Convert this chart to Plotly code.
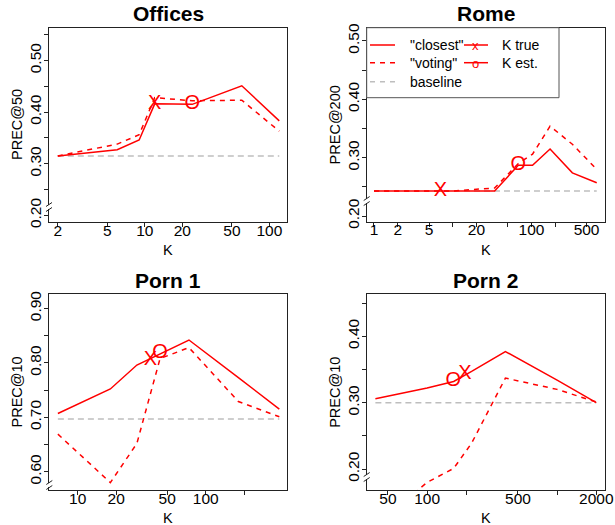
import math
import plotly.graph_objects as go

# ---------------- data ----------------
offices_k = [2, 6, 9, 12, 24, 60, 120]
offices_closest = [0.315, 0.327, 0.346, 0.416, 0.415, 0.451, 0.383]
offices_voting = [0.315, 0.338, 0.356, 0.428, 0.422, 0.423, 0.363]
offices_baseline = 0.315
offices_ktrue = [12, 0.416]
offices_kest = [24, 0.415]

rome_k = [1, 2, 5, 10, 20, 34, 68, 103, 172, 330, 673]
rome_closest = [0.243, 0.243, 0.243, 0.243, 0.243, 0.243, 0.287, 0.287, 0.315, 0.274, 0.257]
rome_voting = [0.243, 0.243, 0.243, 0.243, 0.246, 0.248, 0.290, 0.306, 0.354, 0.323, 0.280]
rome_baseline = 0.243
rome_ktrue = [7, 0.243]
rome_kest = [68, 0.287]

porn1_k = [7, 18, 29, 44, 74, 180, 376]
porn1_closest = [0.707, 0.752, 0.796, 0.817, 0.842, 0.773, 0.715]
porn1_voting = [0.669, 0.580, 0.652, 0.808, 0.828, 0.729, 0.701]
porn1_baseline = 0.697
porn1_ktrue = [37, 0.806]
porn1_kest = [44, 0.818]

porn2_k = [40, 100, 160, 220, 400, 1000, 2000]
porn2_closest = [0.306, 0.322, 0.332, 0.347, 0.377, 0.334, 0.300]
porn2_voting = [0.115, 0.180, 0.201, 0.239, 0.337, 0.320, 0.301]
porn2_baseline = 0.300
porn2_ktrue = [195, 0.343]
porn2_kest = [159, 0.332]

titles = ["Offices", "Rome", "Porn 1", "Porn 2"]
ylabels = ["PREC@50", "PREC@200", "PREC@10", "PREC@10"]

offices_xticks = [2, 5, 10, 20, 50, 100]
offices_xtext = ["2", "5", "10", "20", "50", "100"]
rome_xticks = [1, 2, 5, 10, 20, 50, 100, 200, 500]
rome_xtext = ["1", "2", "5", "", "20", "", "100", "", "500"]
porn1_xticks = [10, 20, 50, 100, 200]
porn1_xtext = ["10", "20", "50", "100", ""]
porn2_xticks = [50, 100, 200, 500, 1000, 2000]
porn2_xtext = ["50", "100", "", "500", "", "2000"]

offices_yticks = [0.20, 0.25, 0.30, 0.35, 0.40, 0.45, 0.50, 0.55]
offices_ytext = ["0.20", "", "0.30", "", "0.40", "", "0.50", ""]
rome_yticks = [0.20, 0.25, 0.30, 0.35, 0.40, 0.45, 0.50]
rome_ytext = ["0.20", "", "0.30", "", "0.40", "", "0.50"]
porn1_yticks = [0.60, 0.65, 0.70, 0.75, 0.80, 0.85, 0.90]
porn1_ytext = ["0.60", "", "0.70", "", "0.80", "", "0.90"]
porn2_yticks = [0.20, 0.25, 0.30, 0.35, 0.40, 0.45]
porn2_ytext = ["0.20", "", "0.30", "", "0.40", ""]

legend_labels = ['"closest"', '"voting"', "baseline", "K true", "K est."]

# ---------------- layout helpers ----------------
W, H = 615, 525
FONT = "Liberation Sans, Arial, Helvetica, sans-serif"
RED = "#FF0000"
GRAY = "#BEBEBE"
FRAME = "#222222"
TICKSIZE = 15.5
LABSIZE = 14.5


def px(x):
    return x / W


def py(y):
    return 1 - y / H


panels = [
    dict(k=offices_k, c=offices_closest, v=offices_voting, b=offices_baseline,
         kt=offices_ktrue, ke=offices_kest, box=(49, 287, 28, 222),
         xr=(1.70, 138.4), yr=(0.187, 0.563),
         xt=offices_xticks, xtt=offices_xtext, yt=offices_yticks, ytt=offices_ytext, brk=207),
    dict(k=rome_k, c=rome_closest, v=rome_voting, b=rome_baseline,
         kt=rome_ktrue, ke=rome_kest, box=(366.7, 605, 27.7, 221.7),
         xr=(0.808, 857), yr=(0.1904, 0.5226),
         xt=rome_xticks, xtt=rome_xtext, yt=rome_yticks, ytt=rome_ytext, brk=201),
    dict(k=porn1_k, c=porn1_closest, v=porn1_voting, b=porn1_baseline,
         kt=porn1_ktrue, ke=porn1_kest, box=(49.3, 287.3, 294.3, 490),
         xr=(6.0, 434), yr=(0.5664, 0.926),
         xt=porn1_xticks, xtt=porn1_xtext, yt=porn1_yticks, ytt=porn1_ytext, brk=485),
    dict(k=porn2_k, c=porn2_closest, v=porn2_voting, b=porn2_baseline,
         kt=porn2_ktrue, ke=porn2_kest, box=(366.7, 605, 294.3, 490),
         xr=(34.3, 2335), yr=(0.1685, 0.4632),
         xt=porn2_xticks, xtt=porn2_xtext, yt=porn2_yticks, ytt=porn2_ytext, brk=477),
]

fig = go.Figure()
shapes = []
annotations = []
layout_axes = {}

for i, p in enumerate(panels):
    n = "" if i == 0 else str(i + 1)
    xa, ya = "x" + n, "y" + n
    k = p["k"]
    fig.add_trace(go.Scatter(x=[k[0], k[-1]], y=[p["b"], p["b"]], mode="lines",
                             line=dict(color=GRAY, width=1.5, dash="6px,4px"),
                             xaxis=xa, yaxis=ya, showlegend=False, hoverinfo="skip"))
    fig.add_trace(go.Scatter(x=k, y=p["v"], mode="lines",
                             line=dict(color=RED, width=1.5, dash="5px,5px"),
                             xaxis=xa, yaxis=ya, showlegend=False))
    fig.add_trace(go.Scatter(x=k, y=p["c"], mode="lines",
                             line=dict(color=RED, width=1.5),
                             xaxis=xa, yaxis=ya, showlegend=False))
    fig.add_trace(go.Scatter(x=[p["kt"][0]], y=[p["kt"][1]], mode="text", text=["X"],
                             textposition="middle center",
                             textfont=dict(size=20, color=RED, family=FONT),
                             xaxis=xa, yaxis=ya, showlegend=False))
    fig.add_trace(go.Scatter(x=[p["ke"][0]], y=[p["ke"][1]], mode="text", text=["O"],
                             textposition="middle center",
                             textfont=dict(size=20, color=RED, family=FONT),
                             xaxis=xa, yaxis=ya, showlegend=False))

    l, r, t, b = p["box"]
    common = dict(showline=True, mirror=True, linecolor=FRAME, linewidth=1,
                  ticks="outside", ticklen=4, tickcolor=FRAME, tickwidth=1,
                  showgrid=False, zeroline=False, automargin=False,
                  tickfont=dict(size=TICKSIZE, family=FONT, color="black"))
    layout_axes["xaxis" + n] = dict(
        type="log", range=[math.log10(p["xr"][0]), math.log10(p["xr"][1])],
        domain=[px(l), px(r)], anchor=ya, tickmode="array",
        tickvals=p["xt"], ticktext=p["xtt"], tickangle=0,
        ticklabelstandoff=-10, **common)
    layout_axes["yaxis" + n] = dict(
        range=list(p["yr"]), domain=[py(b), py(t)], anchor=xa, tickmode="array",
        tickvals=p["yt"], ticktext=p["ytt"], tickangle=-90,
        ticklabelstandoff=-3, **common)

    cx = (l + r) / 2
    cy = (t + b) / 2
    # title
    annotations.append(dict(text="<b>%s</b>" % titles[i], x=px(cx), y=py(t - 14),
                            xref="paper", yref="paper", showarrow=False,
                            xanchor="center", yanchor="middle",
                            font=dict(size=21, family=FONT, color="black")))
    # x label
    annotations.append(dict(text="K", x=px(cx), y=py(b + 28), xref="paper", yref="paper",
                            showarrow=False, xanchor="center", yanchor="middle",
                            font=dict(size=LABSIZE, family=FONT, color="black")))
    # y label
    annotations.append(dict(text=ylabels[i], x=px(l - 32), y=py(cy), xref="paper",
                            yref="paper", showarrow=False, textangle=-90,
                            xanchor="center", yanchor="middle",
                            font=dict(size=LABSIZE, family=FONT, color="black")))
    # axis break marks
    yb = p["brk"]
    shapes.append(dict(type="rect", xref="paper", yref="paper",
                       x0=px(l - 1.5), x1=px(l + 1.5), y0=py(yb + 2), y1=py(yb - 2),
                       line=dict(width=0), fillcolor="white", layer="above"))
    for dy in (-2.5, 2.5):
        shapes.append(dict(type="line", xref="paper", yref="paper",
                           x0=px(l - 3), y0=py(yb + dy + 2), x1=px(l + 3), y1=py(yb + dy - 2),
                           line=dict(color=FRAME, width=1), layer="above"))

# ---------------- legend (in Rome panel) ----------------
shapes.append(dict(type="rect", xref="paper", yref="paper",
                   x0=px(366.7), x1=px(559), y0=py(97.7), y1=py(27.7),
                   line=dict(color="#555555", width=1), fillcolor="white", layer="above"))
rows = [45, 62.7, 81.7]
shapes.append(dict(type="line", xref="paper", yref="paper", x0=px(370), x1=px(395),
                   y0=py(rows[0]), y1=py(rows[0]), line=dict(color=RED, width=1.5), layer="above"))
shapes.append(dict(type="line", xref="paper", yref="paper", x0=px(370), x1=px(395),
                   y0=py(rows[1]), y1=py(rows[1]),
                   line=dict(color=RED, width=1.5, dash="5px,5px"), layer="above"))
shapes.append(dict(type="line", xref="paper", yref="paper", x0=px(370), x1=px(395),
                   y0=py(rows[2]), y1=py(rows[2]),
                   line=dict(color=GRAY, width=1.5, dash="5px,5px"), layer="above"))
for ry in rows[:2]:
    shapes.append(dict(type="line", xref="paper", yref="paper", x0=px(464), x1=px(488),
                       y0=py(ry), y1=py(ry), line=dict(color=RED, width=1.5), layer="above"))
for txt, ry in zip(legend_labels[:3], rows):
    annotations.append(dict(text=txt, x=px(408), y=py(ry), xref="paper", yref="paper",
                            showarrow=False, xanchor="left", yanchor="middle",
                            font=dict(size=14, family=FONT, color="black")))
for txt, ry in zip(legend_labels[3:], rows[:2]):
    annotations.append(dict(text=txt, x=px(500), y=py(ry), xref="paper", yref="paper",
                            showarrow=False, xanchor="left", yanchor="middle",
                            font=dict(size=14, family=FONT, color="black")))
for mk, ry in zip(["x", "o"], rows[:2]):
    annotations.append(dict(text=mk, x=px(476), y=py(ry + 1), xref="paper", yref="paper",
                            showarrow=False, xanchor="center", yanchor="middle",
                            font=dict(size=13, family=FONT, color=RED)))

fig.update_layout(
    width=W, height=H, template="none",
    margin=dict(l=0, r=0, t=0, b=0, pad=0),
    paper_bgcolor="white", plot_bgcolor="white",
    showlegend=False, shapes=shapes, annotations=annotations,
    font=dict(family=FONT, color="black"),
    **layout_axes,
)

fig.write_html("out.html", config={"displayModeBar": False},
               post_script="document.body.style.margin='0';document.body.style.overflow='hidden';")
